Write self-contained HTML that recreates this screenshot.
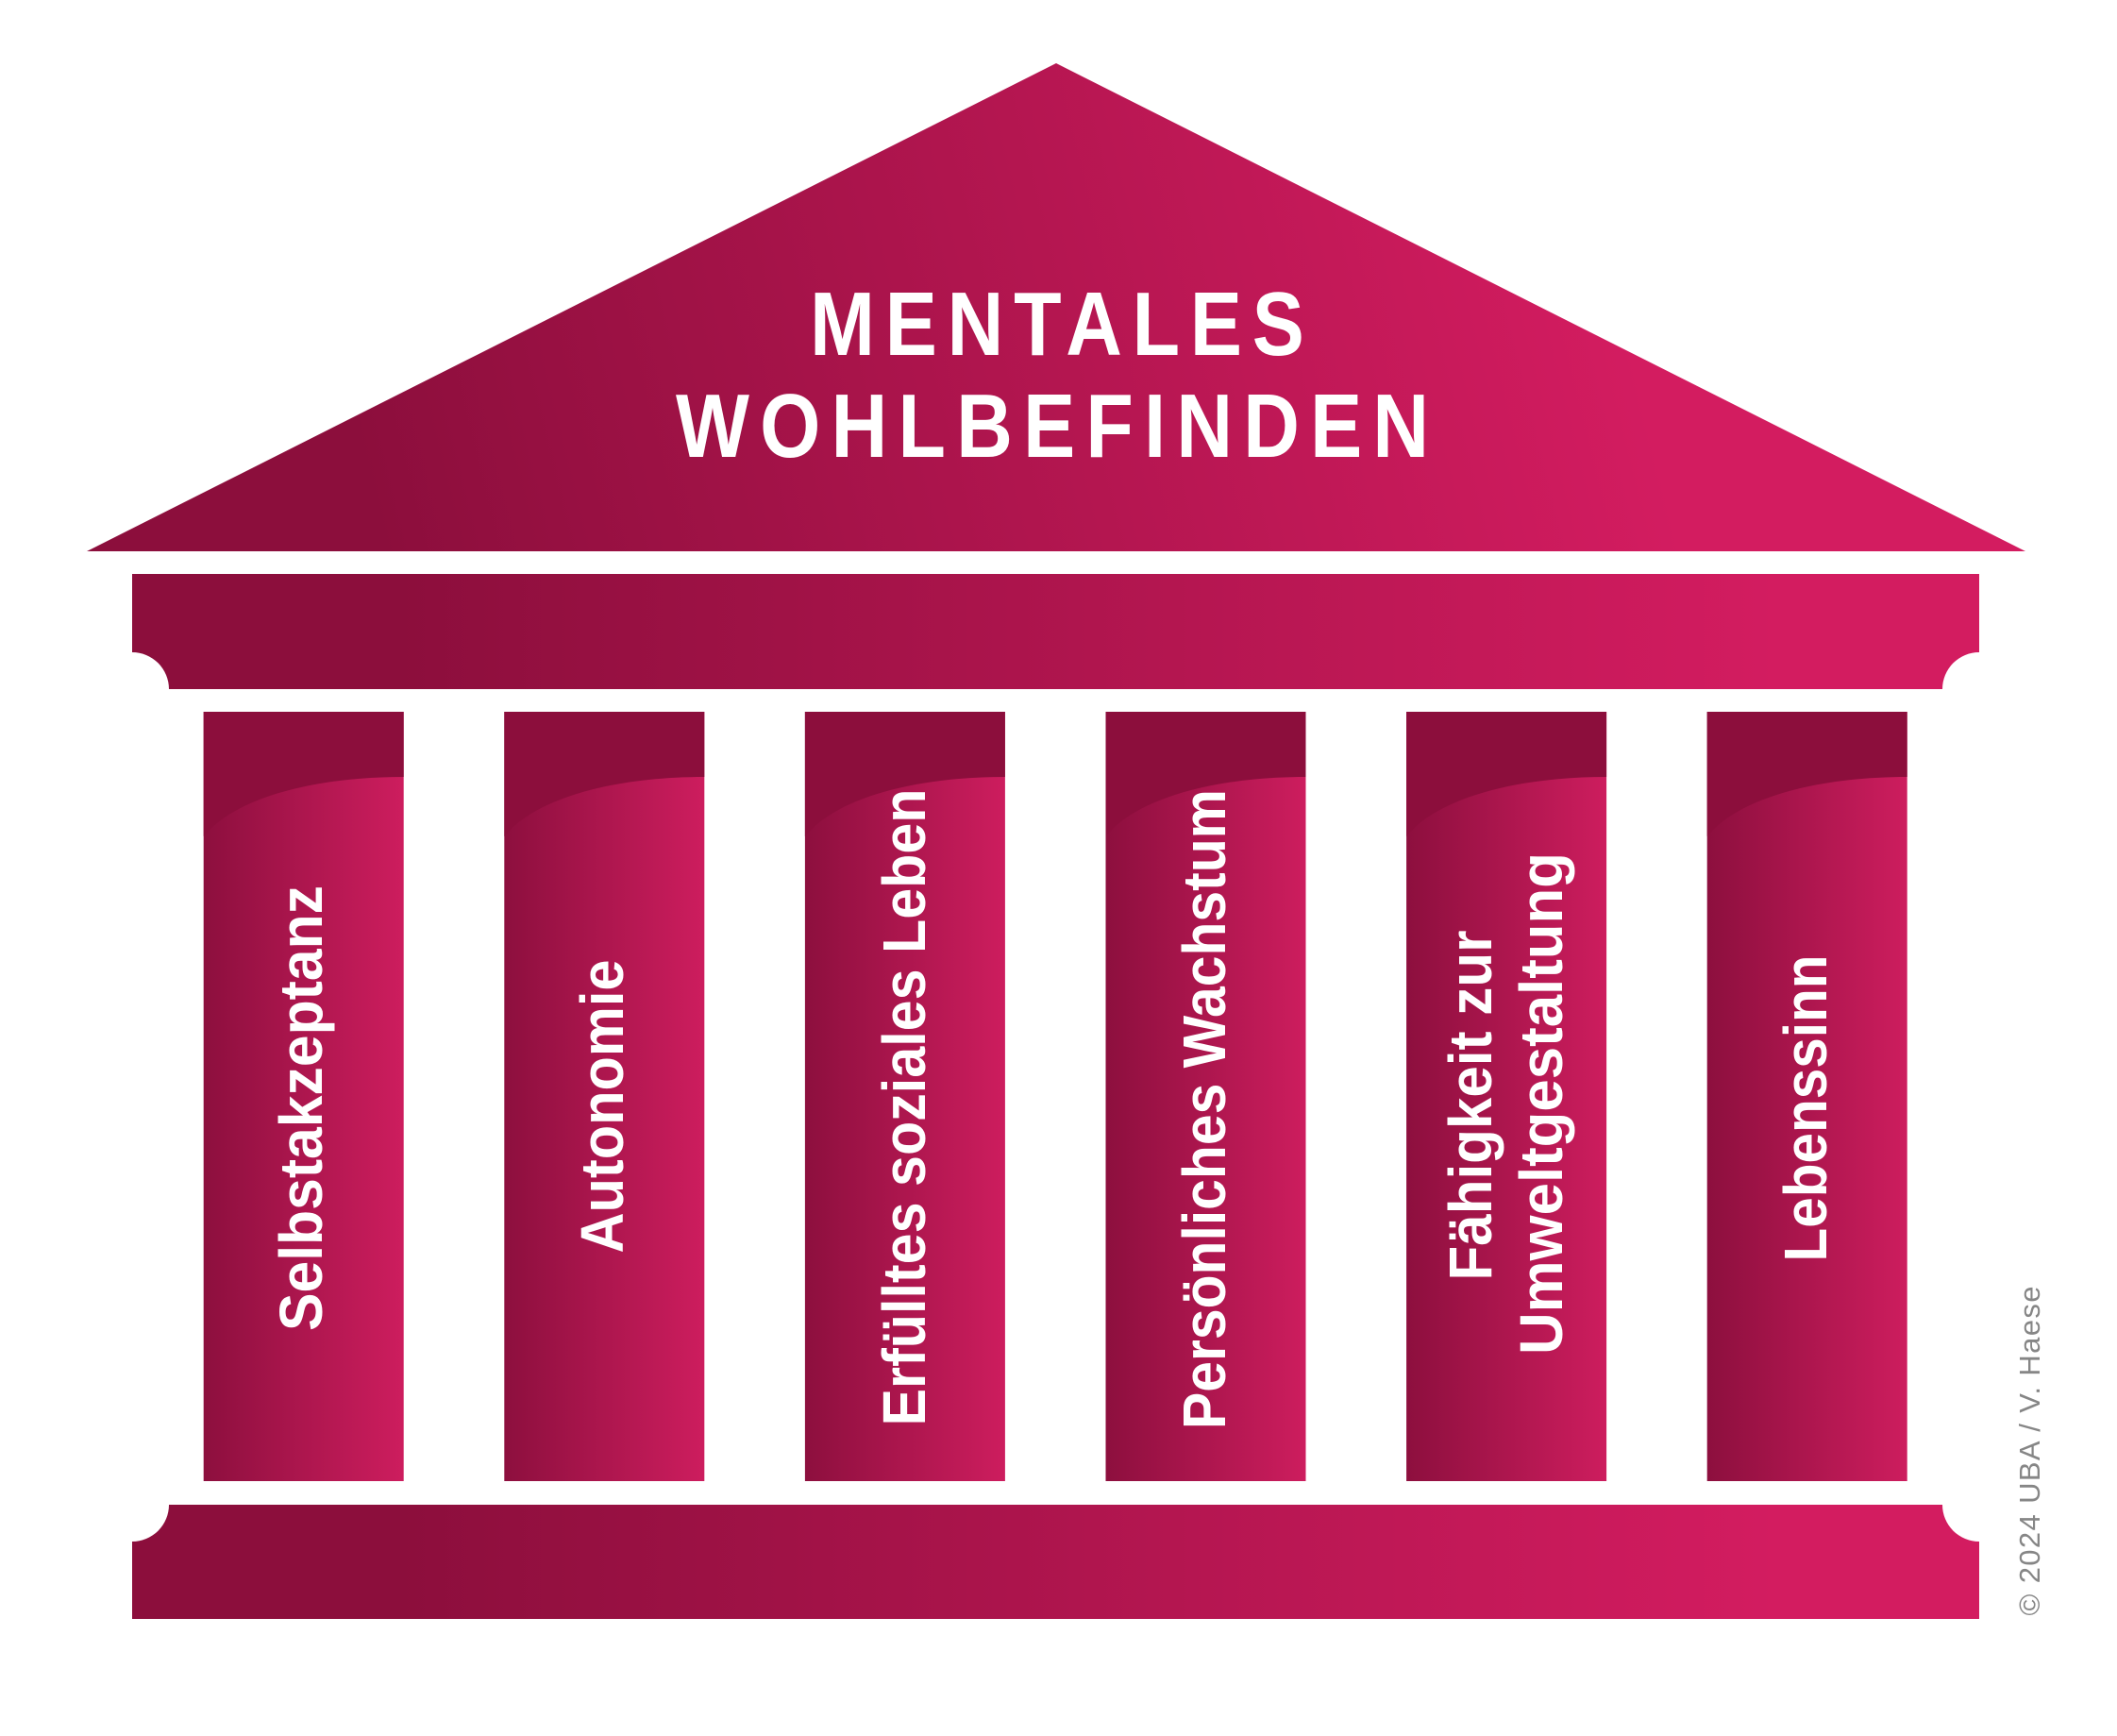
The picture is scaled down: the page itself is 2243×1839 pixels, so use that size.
<!DOCTYPE html>
<html>
<head>
<meta charset="utf-8">
<style>
  html, body { margin: 0; padding: 0; background: #ffffff; }
  svg { display: block; }
  .t { font-family: "Liberation Sans", "DejaVu Sans", sans-serif; font-weight: bold; fill: #ffffff; }
</style>
</head>
<body>
<svg width="2243" height="1839" viewBox="0 0 2243 1839" xmlns="http://www.w3.org/2000/svg">
  <defs>
    <linearGradient id="gTri" gradientUnits="userSpaceOnUse" x1="420" y1="650" x2="1720" y2="330">
      <stop offset="0" stop-color="#8c0e3c"/>
      <stop offset="1" stop-color="#d31c60"/>
    </linearGradient>
    <linearGradient id="gBar" gradientUnits="userSpaceOnUse" x1="420" y1="0" x2="1880" y2="0">
      <stop offset="0" stop-color="#8c0e3c"/>
      <stop offset="1" stop-color="#d31c60"/>
    </linearGradient>
    <linearGradient id="gCol" x1="0" y1="0" x2="1" y2="0">
      <stop offset="0" stop-color="#8d0f3e"/>
      <stop offset="1" stop-color="#cd1d5e"/>
    </linearGradient>
  </defs>

  <!-- Roof -->
  <polygon points="92,584 1119,67 2146,584" fill="url(#gTri)"/>
  <text class="t" font-size="96" text-anchor="middle" textLength="609" lengthAdjust="spacing"
        transform="translate(1120,376) scale(0.86,1)">MENTALES</text>
  <text class="t" font-size="96" text-anchor="middle" textLength="928" lengthAdjust="spacing"
        transform="translate(1115,484) scale(0.86,1)">WOHLBEFINDEN</text>

  <!-- Entablature -->
  <path d="M140,608 H2097 V691 A39,39 0 0 0 2058,730 H179 A39,39 0 0 0 140,691 Z" fill="url(#gBar)"/>

  <!-- Base -->
  <path d="M179,1594 H2058 A39,39 0 0 0 2097,1633 V1715 H140 V1633 A39,39 0 0 0 179,1594 Z" fill="url(#gBar)"/>

  <!-- Columns -->
  <g>
    <rect x="215.7" y="754" width="212" height="815" fill="url(#gCol)"/>
    <path d="M215.7,754 H427.7 V823 C325.7,823 245.7,848 215.7,886 Z" fill="#8c0e3c"/>
    <rect x="534.3" y="754" width="212" height="815" fill="url(#gCol)"/>
    <path d="M534.3,754 H746.3 V823 C644.3,823 564.3,848 534.3,886 Z" fill="#8c0e3c"/>
    <rect x="852.9" y="754" width="212" height="815" fill="url(#gCol)"/>
    <path d="M852.9,754 H1064.9 V823 C962.9,823 882.9,848 852.9,886 Z" fill="#8c0e3c"/>
    <rect x="1171.5" y="754" width="212" height="815" fill="url(#gCol)"/>
    <path d="M1171.5,754 H1383.5 V823 C1281.5,823 1201.5,848 1171.5,886 Z" fill="#8c0e3c"/>
    <rect x="1490.1" y="754" width="212" height="815" fill="url(#gCol)"/>
    <path d="M1490.1,754 H1702.1 V823 C1600.1,823 1520.1,848 1490.1,886 Z" fill="#8c0e3c"/>
    <rect x="1808.7" y="754" width="212" height="815" fill="url(#gCol)"/>
    <path d="M1808.7,754 H2020.7 V823 C1918.7,823 1838.7,848 1808.7,886 Z" fill="#8c0e3c"/>
  </g>

  <!-- Column labels -->
  <text class="t" font-size="64" text-anchor="middle" textLength="472" lengthAdjust="spacingAndGlyphs"
        transform="translate(341,1174) rotate(-90)">Selbstakzeptanz</text>
  <text class="t" font-size="64" text-anchor="middle" textLength="311" lengthAdjust="spacingAndGlyphs"
        transform="translate(660,1172) rotate(-90)">Autonomie</text>
  <text class="t" font-size="64" text-anchor="middle" textLength="675" lengthAdjust="spacingAndGlyphs"
        transform="translate(980,1173) rotate(-90)">Erfülltes soziales Leben</text>
  <text class="t" font-size="64" text-anchor="middle" textLength="678" lengthAdjust="spacingAndGlyphs"
        transform="translate(1298,1175) rotate(-90)">Persönliches Wachstum</text>
  <text class="t" font-size="64" text-anchor="middle" textLength="371" lengthAdjust="spacingAndGlyphs"
        transform="translate(1580,1171) rotate(-90)">Fähigkeit zur</text>
  <text class="t" font-size="64" text-anchor="middle" textLength="532" lengthAdjust="spacingAndGlyphs"
        transform="translate(1655,1169) rotate(-90)">Umweltgestaltung</text>
  <text class="t" font-size="64" text-anchor="middle" textLength="325" lengthAdjust="spacingAndGlyphs"
        transform="translate(1935,1174) rotate(-90)">Lebenssinn</text>

  <!-- Copyright -->
  <text font-family="Liberation Sans, DejaVu Sans, sans-serif" font-size="31" fill="#868686"
        text-anchor="middle" textLength="349" lengthAdjust="spacing"
        transform="translate(2161,1537) rotate(-90)">© 2024 UBA / V. Haese</text>
</svg>
</body>
</html>
